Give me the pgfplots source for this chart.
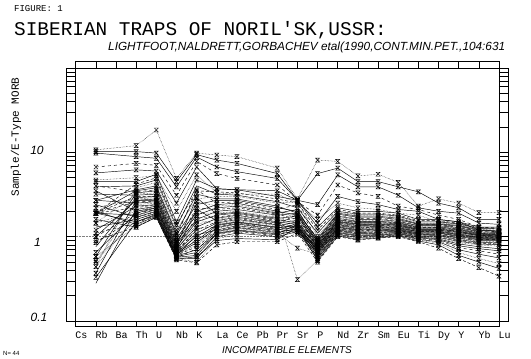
\documentclass[border=0pt]{standalone}
\usepackage{fontspec}
\setmainfont{Liberation Sans}
\newfontfamily\mono{Liberation Mono}
\usepackage{pgfplots}
\usepackage{pgfplotstable}
\pgfplotsset{compat=1.18}

\pgfdeclareplotmark{hg}{%
  \pgfpathmoveto{\pgfqpoint{-\pgfplotmarksize}{\pgfplotmarksize}}%
  \pgfpathlineto{\pgfqpoint{\pgfplotmarksize}{\pgfplotmarksize}}%
  \pgfpathlineto{\pgfqpoint{-\pgfplotmarksize}{-\pgfplotmarksize}}%
  \pgfpathlineto{\pgfqpoint{\pgfplotmarksize}{-\pgfplotmarksize}}%
  \pgfpathclose
  \pgfusepathqstroke}

\pgfplotstableread[header=true]{
id 1 3 4 5 6 7 8 10 11 12 13 14 15 16 17 18 19 20 21
s1 10.7 12.0 18.4 4.9 9.8 9.3 8.9 6.5 2.8 8.1 7.8 5.25 5.5 4.4 2.3 2.8 2.5 1.93 1.93
s2 10.2 10.2 9.8 4.5 9.4 8.1 7.4 5.6 2.7 5.6 6.5 4.5 4.5 3.9 3.4 2.5 2.2 1.6 1.6
s3 9.8 8.9 8.5 3.9 8.8 6.7 5.9 4.9 2.7 2.4 5.4 3.9 3.9 3.1 2.2 2.0 1.9 1.45 1.4
s4 6.7 7.4 7.0 3.1 7.8 5.6 4.9 4.1 2.6 1.8 4.1 3.3 3.0 2.3 2.1 1.8 1.6 1.3 1.25
s5 5.7 6.2 6.0 2.5 6.7 3.7 3.6 3.5 2.7 1.45 3.0 2.6 2.4 2.1 2.0 1.6 1.5 1.2 1.15
s6 4.7 5.0 5.3 2.0 5.4 3.3 3.2 3.2 2.5 1.6 2.5 2.2 2.1 1.9 1.8 1.5 1.4 1.1 1.05
s7 4.5 4.5 5.5 1.5 4.7 3.7 3.6 3.0 2.7 1.3 2.2 2.0 2.0 1.9 1.6 1.6 1.5 1.3 1.3
s8 1.9 4.2 5.0 1.4 3.5 3.4 3.3 2.8 2.5 1.2 2.1 1.9 1.9 1.8 1.55 1.55 1.45 1.28 1.27
s9 3.9 4.0 4.7 1.3 4.0 3.2 3.1 2.6 2.2 1.1 2.0 1.85 1.85 1.75 1.5 1.5 1.42 1.25 1.24
s10 0.44 3.8 4.4 1.2 2.8 3.0 3.0 2.5 2.6 1.0 1.95 1.8 1.8 1.7 1.45 1.45 1.4 1.22 1.2
s11 2.7 3.6 4.0 1.1 3.2 2.8 2.8 2.3 1.9 0.95 1.9 1.75 1.75 1.65 1.42 1.42 1.36 1.2 1.18
s12 1.9 3.5 3.8 1.05 2.4 2.7 2.7 2.2 2.0 0.92 1.85 1.7 1.7 1.6 1.4 1.4 1.33 1.18 1.16
s13 4.0 3.4 3.6 1.0 3.6 2.5 2.6 2.1 2.4 0.9 1.8 1.65 1.65 1.55 1.38 1.38 1.3 1.16 1.14
s14 0.58 3.3 3.5 0.95 2.0 2.4 2.5 2.0 1.8 0.88 1.75 1.6 1.6 1.52 1.35 1.35 1.28 1.14 1.12
s15 1.45 3.2 3.3 0.9 2.6 2.3 2.4 1.95 1.7 0.86 1.7 1.56 1.55 1.5 1.33 1.33 1.26 1.12 1.1
s16 3.2 3.1 3.2 0.88 1.8 2.2 2.3 1.9 2.1 0.85 1.65 1.52 1.52 1.47 1.3 1.3 1.24 1.1 1.08
s17 1.9 3.0 3.0 0.85 2.2 2.1 2.2 1.85 1.6 0.83 1.6 1.5 1.5 1.45 1.28 1.28 1.22 1.08 1.07
s18 0.76 2.9 3.0 0.82 1.6 2.0 2.1 1.8 1.9 0.82 1.58 1.47 1.47 1.42 1.26 1.26 1.2 1.07 1.06
s19 2.2 2.8 2.9 0.8 1.9 1.9 2.0 1.7 1.5 0.8 1.55 1.44 1.45 1.4 1.25 1.25 1.18 1.06 1.05
s20 1.0 2.7 2.8 0.78 2.9 1.85 1.95 1.65 1.75 0.79 1.52 1.42 1.42 1.38 1.23 1.23 1.16 1.05 1.04
s21 0.37 2.7 2.7 0.76 1.5 1.8 1.9 1.6 1.45 0.78 1.5 1.4 1.4 1.36 1.22 1.22 1.15 1.04 1.03
s22 1.9 2.6 2.6 0.74 1.7 1.7 1.85 1.55 1.65 0.77 1.48 1.38 1.38 1.34 1.2 1.2 1.13 1.03 1.02
s23 2.7 2.5 2.6 0.72 1.3 1.65 1.8 1.5 1.4 0.76 1.45 1.35 1.36 1.32 1.19 1.19 1.12 1.02 1.01
s24 0.5 2.4 2.5 0.7 1.4 1.6 1.75 1.48 1.55 0.75 1.42 1.33 1.34 1.3 1.18 1.18 1.1 1.0 1.0
s25 1.2 2.3 2.4 0.7 2.1 1.55 1.7 1.45 1.3 0.74 1.4 1.3 1.32 1.28 1.16 1.16 1.08 0.99 0.99
s26 1.9 2.2 2.4 0.68 1.2 1.5 1.65 1.4 1.85 0.73 1.38 1.28 1.3 1.26 1.15 1.15 1.06 0.98 0.98
s27 0.28 2.1 2.3 0.67 1.1 1.45 1.6 1.38 1.25 0.72 1.35 1.26 1.28 1.25 1.14 1.14 1.05 0.97 0.97
s28 1.45 2.0 2.3 0.66 1.6 1.4 1.55 1.35 1.5 0.71 1.32 1.24 1.26 1.24 1.12 1.12 1.04 0.96 0.96
s29 3.5 2.0 2.2 0.65 1.0 1.38 1.5 1.3 1.2 0.7 1.3 1.22 1.24 1.22 1.11 1.11 1.02 0.95 0.95
s30 0.65 1.9 2.2 0.64 0.9 1.35 1.48 1.28 1.35 0.69 1.28 1.2 1.22 1.2 1.1 1.1 1.0 0.93 0.93
s31 1.0 1.9 2.1 0.63 1.25 1.3 1.45 1.25 1.6 0.68 1.26 1.18 1.2 1.19 1.08 1.08 0.98 0.92 0.92
s32 1.9 1.8 2.1 0.62 0.85 1.28 1.42 1.22 1.15 0.67 1.24 1.16 1.18 1.18 1.07 1.06 0.96 0.9 0.9
s33 0.44 1.8 2.0 0.61 0.8 1.25 1.4 1.2 1.3 0.66 1.22 1.14 1.16 1.16 1.06 1.05 0.94 0.88 0.88
s34 2.4 1.7 2.0 0.6 1.05 1.2 1.35 1.18 1.45 0.65 1.2 1.12 1.14 1.15 1.05 1.03 0.92 0.86 0.85
s35 0.85 1.7 1.95 0.6 0.76 1.18 1.3 1.15 1.1 0.64 1.18 1.1 1.12 1.14 1.03 1.0 0.9 0.84 0.82
s36 1.3 1.6 1.9 0.59 0.7 1.15 1.28 1.12 1.25 0.63 1.16 1.08 1.1 1.12 1.02 0.98 0.88 0.82 0.8
s37 0.52 1.6 1.9 0.58 0.95 1.12 1.25 1.1 0.73 0.62 1.14 1.06 1.08 1.1 1.0 0.96 0.85 0.8 0.77
s38 1.9 1.5 1.85 0.58 0.65 1.1 1.2 1.08 1.4 0.6 1.12 1.04 1.06 1.09 0.99 0.94 0.82 0.76 0.72
s39 0.33 1.5 1.8 0.57 0.6 1.08 1.18 1.05 1.2 0.58 1.1 1.02 1.04 1.08 0.97 0.92 0.78 0.72 0.68
s40 1.1 1.45 1.8 0.56 0.72 1.05 1.15 1.02 1.35 0.56 1.08 1.0 1.02 1.06 0.95 0.9 0.74 0.68 0.62
s41 2.0 1.4 1.75 0.56 0.55 1.0 1.1 1.0 1.15 0.55 1.06 0.98 1.0 1.05 0.93 0.87 0.7 0.62 0.56
s42 0.58 1.35 1.7 0.55 0.5 0.95 1.05 1.9 0.31 0.53 1.04 0.96 0.99 1.03 0.91 0.84 0.65 0.55 0.48
s43 1.6 1.3 1.7 0.54 0.58 0.9 0.95 0.92 1.3 0.52 1.02 0.93 0.97 1.02 0.89 0.8 0.6 0.5 0.42
s44 0.9 1.3 1.7 0.53 0.49 0.8 0.87 0.87 1.1 0.5 1.0 0.91 0.96 1.0 0.87 0.73 0.55 0.43 0.34
}\raw
\pgfplotstabletranspose[colnames from=id,input colnames to=x]{\data}{\raw}

\pgfplotscreateplotcyclelist{ladder}{
 {black, mark=hg, densely dotted},
 {black, mark=hg, solid},
 {black, mark=hg, solid},
 {black, mark=hg, dashed},
 {black, mark=hg, solid},
 {black, mark=hg, densely dotted},
 {black, mark=hg, solid},
 {black, mark=hg, densely dashed},
}

\begin{document}
\begin{tikzpicture}
\path[use as bounding box] (0,0) rectangle (531pt,-359pt);
\node[anchor=base west, inner sep=0pt, font=\mono\fontsize{9}{9}\selectfont] at (14pt,-11pt) {FIGURE: 1};
\node[anchor=base west, inner sep=0pt, font=\mono\fontsize{19.4}{19.4}\selectfont] at (14pt,-35pt) {SIBERIAN TRAPS OF NORIL'SK,USSR:};
\node[anchor=base west, inner sep=0pt, font=\itshape\fontsize{11.8}{11.8}\selectfont] at (108pt,-50.7pt) {LIGHTFOOT,NALDRETT,GORBACHEV etal(1990,CONT.MIN.PET.,104:631};
\node[rotate=90, inner sep=0pt, font=\mono\fontsize{11}{11}\selectfont] at (16pt,-137pt) {Sample/E-Type MORB};
\node[inner sep=0pt, font=\itshape\fontsize{12}{12}\selectfont] at (37pt,-150pt) {10};
\node[inner sep=0pt, font=\itshape\fontsize{12}{12}\selectfont] at (37.5pt,-242pt) {1};
\node[inner sep=0pt, font=\itshape\fontsize{12}{12}\selectfont] at (39pt,-317pt) {0.1};
\node[anchor=base west, inner sep=0pt, font=\itshape\fontsize{10}{10}\selectfont] at (222pt,-353.3pt) {INCOMPATIBLE ELEMENTS};
\node[anchor=base west, inner sep=0pt, font=\fontsize{6}{6}\selectfont] at (3pt,-355pt) {N= 44};
\begin{axis}[
  at={(75.7pt,-321pt)}, anchor=south west,
  scale only axis, width=423.3pt, height=253pt,
  xmin=0, xmax=21, ymode=log, ymin=0.1, ymax=100,
  xtick={0,...,21},
  xticklabels={Cs,Rb,Ba,Th,U,Nb,K,La,Ce,Pb,Pr,Sr,P,Nd,Zr,Sm,Eu,Ti,Dy,Y,Yb,Lu},
  major tick length=0pt, xtick style={draw=none},
  xticklabel style={font=\mono\fontsize{10}{10}\selectfont, anchor=base west, inner sep=0pt, xshift=-0.5pt, yshift=-17pt},
  ytick=\empty,
  axis line style={line width=0.6pt},
  clip=false,
  cycle list name=ladder,
  every axis plot/.append style={line width=0.45pt, mark size=2pt, mark options={solid}},
]
\addplot[densely dotted, gray, line width=0.4pt, mark=none, forget plot] coordinates {(0,1) (21,1)};
\pgfplotsinvokeforeach{1,...,44}{\addplot table[x=x,y=s#1]{\data};}
\draw[line width=0.5pt] ([xshift=-9pt]rel axis cs:0,0) rectangle (rel axis cs:0,1);
\draw[line width=0.5pt] ([xshift=9pt]rel axis cs:1,0) rectangle (rel axis cs:1,1);
\draw[line width=0.5pt] (rel axis cs:0,1) rectangle ([yshift=6.3pt]rel axis cs:1,1);
\draw[line width=0.5pt] (rel axis cs:0,0) rectangle ([yshift=-5pt]rel axis cs:1,0);
\pgfplotsinvokeforeach{0.2,0.3,0.4,0.5,0.6,0.7,0.8,0.9,1,2,3,4,5,6,7,8,9,10,20,30,40,50,60,70,80,90}{
  \draw[line width=0.5pt] (axis cs:0,#1) -- ([xshift=-9pt]axis cs:0,#1);
  \draw[line width=0.5pt] (axis cs:21,#1) -- ([xshift=9pt]axis cs:21,#1);
}
\pgfplotsinvokeforeach{1,...,20}{
  \draw[line width=0.5pt] (axis cs:#1,100) -- ([yshift=6.3pt]axis cs:#1,100);
  \draw[line width=0.5pt] (axis cs:#1,0.1) -- ([yshift=-5pt]axis cs:#1,0.1);
}
\end{axis}
\end{tikzpicture}
\end{document}
